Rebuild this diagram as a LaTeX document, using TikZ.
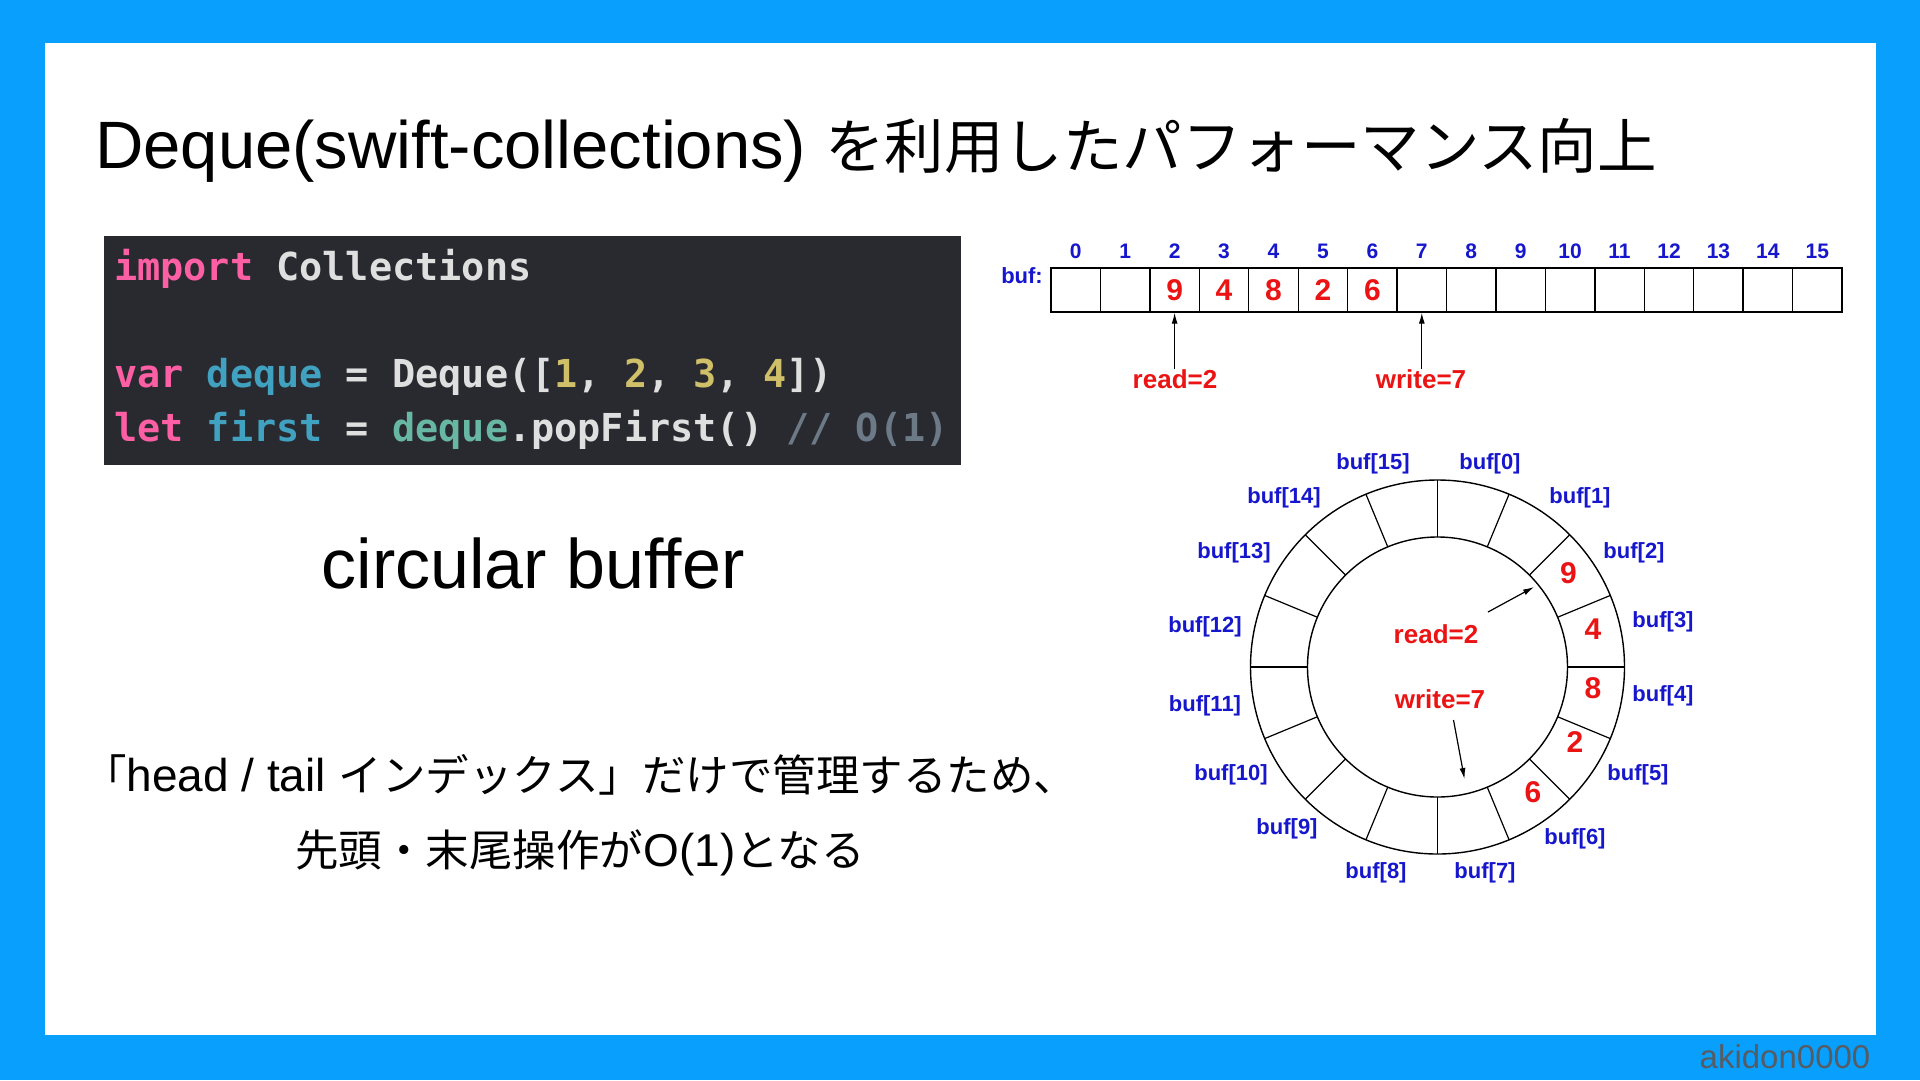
\documentclass[tikz,border=0pt]{standalone}
\usepackage{fontspec}
\setmainfont{Liberation Sans}
\newfontfamily\jpf{Noto Sans CJK JP}
\newfontfamily\latf{Liberation Sans}
\newfontfamily\codef{DejaVu Sans Mono}
\usetikzlibrary{arrows.meta,calc}
\definecolor{bgblue}{RGB}{8,160,252}
\definecolor{codebg}{RGB}{41,42,48}
\definecolor{cplain}{RGB}{223,223,224}
\definecolor{ckey}{RGB}{252,95,163}
\definecolor{cvar}{RGB}{65,161,192}
\definecolor{cuse}{RGB}{103,183,164}
\definecolor{cnum}{RGB}{208,191,105}
\definecolor{ccom}{RGB}{108,121,134}
\definecolor{dblue}{RGB}{22,22,205}
\definecolor{dred}{RGB}{235,20,20}
\definecolor{wmgray}{RGB}{85,92,100}
\newcommand\setfs[1]{\fontsize{#1}{#1}\selectfont}
\begin{document}
\begin{tikzpicture}[x=1pt,y=-1pt,
  cell/.style={draw,line width=1.4pt,minimum width=49.44pt,minimum height=44pt,inner sep=0pt},
  idx/.style={text=dblue,font=\latf\bfseries\setfs{21},inner sep=0pt},
  blab/.style={text=dblue,font=\latf\bfseries\setfs{22},inner sep=0pt},
  val/.style={text=dred,font=\latf\bfseries\setfs{30},inner sep=0pt},
  rlab/.style={text=dred,font=\latf\bfseries\setfs{26},inner sep=0pt},
  arr/.style={line width=1.2pt,-{Latex[length=11pt,width=6pt]}},
  codeline/.style={anchor=base west,inner sep=0pt,text=cplain,font=\codef\bfseries\setfs{38.5}},
  ring/.style={draw,circle,line width=1.4pt,inner sep=0pt}]
\useasboundingbox (0,0) rectangle (1920,1080);
\fill[bgblue] (0,0) rectangle (1920,1080);
\fill[white] (45,43) rectangle (1876,1035);

% title
\node[anchor=base west,inner sep=0pt] (title) at (95,168)
  {\setfs{67}\latf Deque(swift-collections) \setfs{59.5}\jpf を利用したパフォーマンス向上};

% code block
\fill[codebg] (104,236) rectangle (961,465);
\node[codeline] (l1) at (114,280) {\textcolor{ckey}{import} Collections};
\node[codeline] (l3) at (114,387) {\textcolor{ckey}{var} \textcolor{cvar}{deque} = Deque([\textcolor{cnum}{1}, \textcolor{cnum}{2}, \textcolor{cnum}{3}, \textcolor{cnum}{4}])};
\node[codeline] (l4) at (114,441) {\textcolor{ckey}{let} \textcolor{cvar}{first} = \textcolor{cuse}{deque}.popFirst() \textcolor{ccom}{// O(1)}};

% circular buffer caption
\node[inner sep=0pt] (cb) at (533,563) {\setfs{70}\latf circular buffer};

% Japanese explanation
\node[inner sep=0pt] (jp1) at (580,775) {\setfs{43.5}\jpf 「\setfs{46}\latf head / tail \setfs{43.5}\jpf インデックス」だけで管理するため、};
\node[inner sep=0pt] (jp2) at (580,853) {\setfs{43.5}\jpf 先頭・末尾操作が\setfs{46}\latf O(1)\setfs{43.5}\jpf となる};

% watermark
\node[inner sep=0pt,text=wmgray] (wm) at (1785,1057) {\setfs{33}\latf akidon0000};

% linear buffer
\node[blab,anchor=east] (buflab) at (1043,276) {buf:};
\foreach \i in {0,...,15} {
  \node[cell] (c\i) at ({1051+(\i+0.5)*49.44},290) {};
  \node[idx] (i\i) at ({1051+(\i+0.5)*49.44},251) {\i};
}
\foreach \i/\v in {2/9,3/4,4/8,5/2,6/6}
  \node[val] at (c\i) {\v};
\node[rlab] (read1) at (1175,379) {read=2};
\node[rlab] (write1) at (1421,379) {write=7};
\draw[arr] (c2.south |- read1.north) -- (c2.south);
\draw[arr] (c7.south |- write1.north) -- (c7.south);

% circular buffer
\coordinate (C) at (1437.5,667);
\node[ring,minimum size=374pt] (outer) at (C) {};
\node[ring,minimum size=260pt] (inner) at (C) {};
\foreach \k in {0,...,15}
  \draw[line width=1.2pt] ($(C)+({90-\k*22.5}:130pt)$) -- ($(C)+({90-\k*22.5}:187pt)$);
\node[val] (v2) at (1568.5,573) {9};
\node[val] (v3) at (1593,629) {4};
\node[val] (v4) at (1593,688) {8};
\node[val] (v5) at (1575,742) {2};
\node[val] (v6) at (1533,792) {6};
\node[blab] (b15) at (1373,464) {buf[15]};
\node[blab] (b0) at (1490,464) {buf[0]};
\node[blab] (b14) at (1284,498) {buf[14]};
\node[blab] (b1) at (1580,498) {buf[1]};
\node[blab] (b13) at (1234,553) {buf[13]};
\node[blab] (b2) at (1634,553) {buf[2]};
\node[blab] (b12) at (1205,627) {buf[12]};
\node[blab] (b3) at (1663,622) {buf[3]};
\node[blab] (b11) at (1205,706) {buf[11]};
\node[blab] (b4) at (1663,696) {buf[4]};
\node[blab] (b10) at (1231,775) {buf[10]};
\node[blab] (b5) at (1638,775) {buf[5]};
\node[blab] (b9) at (1287,829) {buf[9]};
\node[blab] (b6) at (1575,839) {buf[6]};
\node[blab] (b8) at (1376,873) {buf[8]};
\node[blab] (b7) at (1485,873) {buf[7]};
\node[rlab] (read2) at (1436,634) {read=2};
\node[rlab] (write2) at (1440,699) {write=7};
\coordinate (rtail) at (1488,612);
\coordinate (rhead) at (1534,587);
\coordinate (wtail) at (1453.5,720);
\coordinate (whead) at (1464.5,779);
\draw[arr] (rtail) -- (rhead);
\draw[arr] (wtail) -- (whead);
\end{tikzpicture}
\end{document}
